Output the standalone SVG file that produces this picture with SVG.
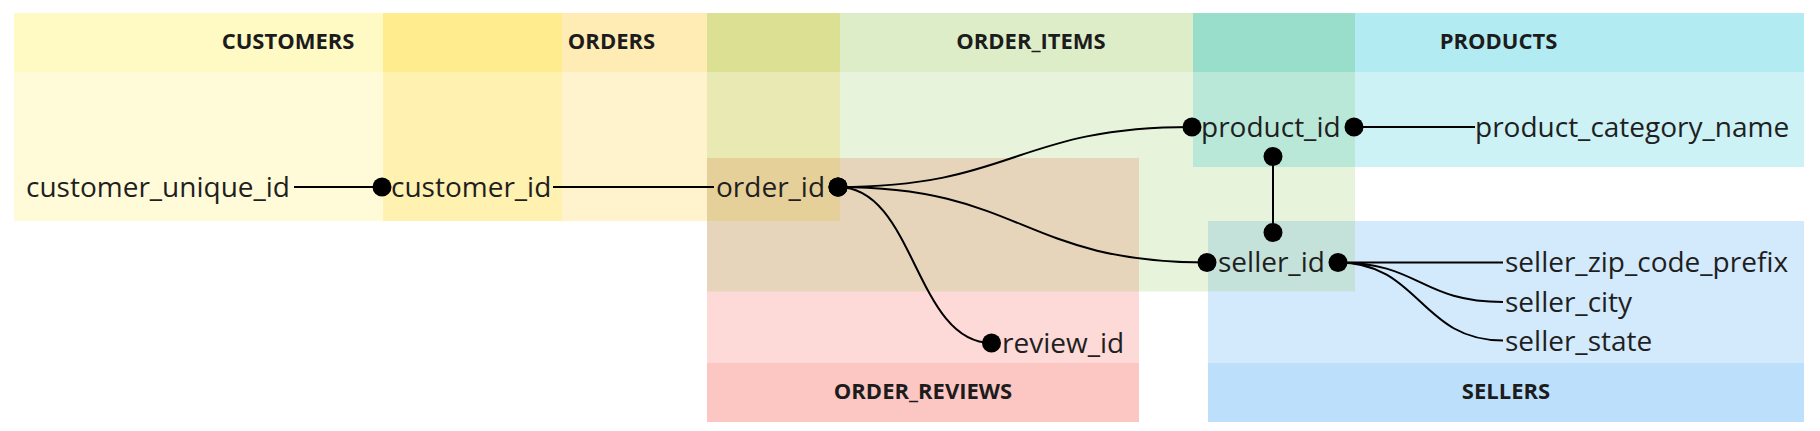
<svg xmlns="http://www.w3.org/2000/svg" width="1820" height="431" viewBox="0 0 1820 431">
<style>
  .hdr { fill-opacity: 0.3; }
  .body { fill-opacity: 0.2; }
  .title { font-family: "Open Sans", "Liberation Sans", sans-serif; font-weight: 700; font-size: 22px; fill: #1c1c1c; text-anchor: middle; }
  .field { font-family: "Open Sans", "Liberation Sans", sans-serif; font-size: 28px; fill: #1f1f1f; }
  .c-cust { fill: #FFEB3B; }
  .c-ord { fill: #FFC107; }
  .c-item { fill: #8BC34A; }
  .c-prod { fill: #00BCD4; }
  .c-rev { fill: #F44336; }
  .c-sell { fill: #2196F3; }
  .conn { fill: none; stroke: #000; stroke-width: 2; }
  .both { marker-start: url(#dot); marker-end: url(#dot); }
  .start { marker-start: url(#dot); }
  .end { marker-end: url(#dot); }
</style>
<defs>
  <marker id="dot" markerUnits="userSpaceOnUse" markerWidth="20" markerHeight="20" refX="10" refY="10" orient="auto" viewBox="0 0 20 20">
    <circle cx="10" cy="10" r="9.5" fill="#000"/>
  </marker>
</defs>
<rect width="1820" height="431" fill="#ffffff"/>

<g id="tables">
  <g id="order_reviews">
    <rect class="c-rev body" x="707" y="158" width="432" height="205"/>
    <rect class="c-rev hdr" x="707" y="363" width="432" height="59"/>
    <text class="title" x="923" y="399">ORDER_REVIEWS</text>
  </g>
  <g id="orders">
    <rect class="c-ord hdr" x="383" y="13" width="457" height="59"/>
    <rect class="c-ord body" x="383" y="72" width="457" height="149"/>
    <text class="title" x="611.5" y="49">ORDERS</text>
  </g>
  <g id="customers">
    <rect class="c-cust hdr" x="14" y="13" width="548" height="59"/>
    <rect class="c-cust body" x="14" y="72" width="548" height="149"/>
    <text class="title" x="288" y="49">CUSTOMERS</text>
  </g>
  <g id="sellers">
    <rect class="c-sell body" x="1208" y="221" width="596" height="142"/>
    <rect class="c-sell hdr" x="1208" y="363" width="596" height="59"/>
    <text class="title" x="1506" y="399">SELLERS</text>
  </g>
  <g id="order_items">
    <rect class="c-item hdr" x="707" y="13" width="648" height="59"/>
    <rect class="c-item body" x="707" y="72" width="648" height="219.5"/>
    <text class="title" x="1031" y="49">ORDER_ITEMS</text>
  </g>
  <g id="products">
    <rect class="c-prod hdr" x="1193" y="13" width="611" height="59"/>
    <rect class="c-prod body" x="1193" y="72" width="611" height="95"/>
    <text class="title" x="1498.5" y="49">PRODUCTS</text>
  </g>
</g>

<g id="connectors">
  <path class="conn end" d="M294 187 H382"/>
  <path class="conn" d="M553 187 H714"/>
  <path class="conn both" d="M838 187 C1015 187 1015 127 1192 127"/>
  <path class="conn both" d="M838 187 C1022 187 1022 262.5 1207 262.5"/>
  <path class="conn both" d="M838 187 C915 187 915 343 991.5 343"/>
  <path class="conn start" d="M1354 127 H1475"/>
  <path class="conn both" d="M1273 156.5 V232.5"/>
  <path class="conn start" d="M1338 262.5 H1503"/>
  <path class="conn" d="M1338 262.5 C1420 262.5 1420 302 1503 302"/>
  <path class="conn" d="M1338 262.5 C1420 262.5 1420 340.5 1503 340.5"/>
</g>

<g id="fields">
  <g id="customer_unique_id"><text class="field" x="26" y="197">customer_unique_id</text></g>
  <g id="customer_id"><text class="field" x="391" y="197">customer_id</text></g>
  <g id="order_id"><text class="field" x="716" y="197">order_id</text></g>
  <g id="product_id"><text class="field" x="1201" y="137">product_id</text></g>
  <g id="product_category_name"><text class="field" x="1475" y="137">product_category_name</text></g>
  <g id="seller_id"><text class="field" x="1218" y="272">seller_id</text></g>
  <g id="seller_zip_code_prefix"><text class="field" x="1505" y="272">seller_zip_code_prefix</text></g>
  <g id="seller_city"><text class="field" x="1505" y="311.5">seller_city</text></g>
  <g id="seller_state"><text class="field" x="1505" y="350.5">seller_state</text></g>
  <g id="review_id"><text class="field" x="1002" y="353">review_id</text></g>
</g>
</svg>
